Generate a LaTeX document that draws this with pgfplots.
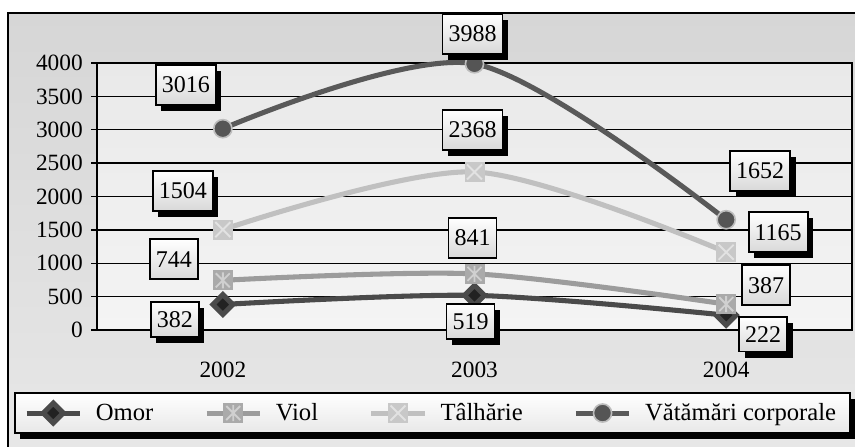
\documentclass[border=0pt]{standalone}
\usepackage{fontspec}
\setmainfont{Liberation Serif}
\usepackage{pgfplots}
\pgfplotsset{compat=1.18}
\usepackage{pgfplotstable}
\usetikzlibrary{shadows}

\definecolor{omorline}{HTML}{4A4A4A}
\definecolor{omormark}{HTML}{222222}
\definecolor{violline}{HTML}{9C9C9C}
\definecolor{violmark}{HTML}{AAAAAA}
\definecolor{violx}{HTML}{D0D0D0}
\definecolor{talline}{HTML}{C0C0C0}
\definecolor{talmark}{HTML}{C8C8C8}
\definecolor{talx}{HTML}{E2E2E2}
\definecolor{vatline}{HTML}{595959}
\definecolor{vatmark}{HTML}{555555}
\definecolor{vatedge}{HTML}{BDBDBD}
\definecolor{frametop}{HTML}{D6D6D6}
\definecolor{framebot}{HTML}{E8E8E8}
\definecolor{plottop}{HTML}{E9E9E9}
\definecolor{plotbot}{HTML}{F4F4F4}

\pgfdeclareplotmark{sqast}{%
  \pgfpathrectangle{\pgfqpoint{-\pgfplotmarksize}{-\pgfplotmarksize}}{\pgfqpoint{2\pgfplotmarksize}{2\pgfplotmarksize}}%
  \pgfsetfillcolor{violmark}\pgfusepathqfill
  \pgfsetstrokecolor{violx}\pgfsetlinewidth{1.4pt}%
  \pgfpathmoveto{\pgfqpoint{0pt}{-0.8\pgfplotmarksize}}\pgfpathlineto{\pgfqpoint{0pt}{0.8\pgfplotmarksize}}%
  \pgfpathmoveto{\pgfqpoint{-0.7\pgfplotmarksize}{-0.7\pgfplotmarksize}}\pgfpathlineto{\pgfqpoint{0.7\pgfplotmarksize}{0.7\pgfplotmarksize}}%
  \pgfpathmoveto{\pgfqpoint{-0.7\pgfplotmarksize}{0.7\pgfplotmarksize}}\pgfpathlineto{\pgfqpoint{0.7\pgfplotmarksize}{-0.7\pgfplotmarksize}}%
  \pgfusepathqstroke}
\pgfdeclareplotmark{sqx}{%
  \pgfpathrectangle{\pgfqpoint{-\pgfplotmarksize}{-\pgfplotmarksize}}{\pgfqpoint{2\pgfplotmarksize}{2\pgfplotmarksize}}%
  \pgfsetfillcolor{talmark}\pgfusepathqfill
  \pgfsetstrokecolor{talx}\pgfsetlinewidth{1.4pt}%
  \pgfpathmoveto{\pgfqpoint{-0.75\pgfplotmarksize}{-0.75\pgfplotmarksize}}\pgfpathlineto{\pgfqpoint{0.75\pgfplotmarksize}{0.75\pgfplotmarksize}}%
  \pgfpathmoveto{\pgfqpoint{-0.75\pgfplotmarksize}{0.75\pgfplotmarksize}}\pgfpathlineto{\pgfqpoint{0.75\pgfplotmarksize}{-0.75\pgfplotmarksize}}%
  \pgfusepathqstroke}

% x = category index (0=2002, 1=2003, 2=2004); dx, dy = label offset in px
\pgfplotstableread{
x y dx dy
0 382 -48 -15
1 519 -4 -26
2 222 37 -19
}\omor
\pgfplotstableread{
x y dx dy
0 744 -49 21
1 841 -2 36
2 387 40 19
}\viol
\pgfplotstableread{
x y dx dy
0 1504 -40 39
1 2368 -2 42
2 1165 52 20
}\tal
\pgfplotstableread{
x y dx dy
0 3016 -37 44
1 3988 -2 30
2 1652 34 49
}\vat

\tikzset{
  lbl/.style={draw=black, line width=1.4pt, top color=white, bottom color=gray!30,
    inner xsep=4.5pt, inner ysep=0pt, minimum height=30pt, anchor=center,
    font=\fontsize{18}{20}\selectfont, text=black},
  lblsh/.style={general shadow={fill=black, shadow xshift=4pt, shadow yshift=-4.5pt}},
}

\begin{document}
\begin{tikzpicture}
\path[use as bounding box] (0pt,0pt) rectangle (641.25pt,334.5pt);
\clip (0pt,0pt) rectangle (641.25pt,334.5pt);
% outer frame
\draw[line width=1.5pt, top color=frametop, bottom color=framebot] (6pt,324.75pt) rectangle (670pt,-20pt);
% legend box
\draw[line width=1.5pt, top color=white, bottom color=gray!18,
  general shadow={fill=black, shadow xshift=3.75pt, shadow yshift=-4.5pt}]
  (11.25pt,39.75pt) rectangle (637.5pt,9.75pt);

\begin{axis}[
  at={(72.75pt,87pt)}, anchor=south west,
  scale only axis, width=566.25pt, height=200.25pt,
  clip=false,
  xmin=-0.5, xmax=2.5, ymin=0, ymax=4000,
  xtick={0,1,2}, xticklabels={2002,2003,2004},
  ytick={0,500,...,4000},
  ytick pos=left, xtick pos=bottom,
  xtick style={draw=none},
  ytick style={black, line width=1.1pt},
  major tick length=4.5pt, tick align=outside,
  ymajorgrids, grid style={black, line width=1.1pt},
  axis line style={black, line width=1.1pt},
  axis background/.style={top color=plottop, bottom color=plotbot},
  /pgf/number format/assume math mode=true,
  /pgf/number format/1000 sep={},
  ticklabel style={font=\fontsize{17.5}{20}\selectfont},
  yticklabel style={inner xsep=0pt, xshift=-6pt},
  xticklabel style={inner ysep=0pt, yshift=-19pt},
  legend columns=4,
  legend cell align=left,
  legend style={at={(0.443,-0.311)}, anchor=center, draw=none, fill=none,
    font=\fontsize{18.5}{20}\selectfont,
    /tikz/every odd column/.append style={column sep=8pt},
    /tikz/every even column/.append style={column sep=36pt}},
  legend image code/.code={\draw[mark repeat=2,mark phase=2,#1] plot coordinates {(0pt,0pt) (20pt,0pt) (40pt,0pt)};},
]
\addplot[omorline, line width=3.8pt, smooth, mark=square*, mark size=5.3pt,
  mark options={rotate=45, fill=omormark, draw=none}] table[x=x,y=y] {\omor};
\addplot[violline, line width=3.8pt, smooth, mark=sqast, mark size=7.5pt] table[x=x,y=y] {\viol};
\addplot[talline, line width=3.8pt, smooth, mark=sqx, mark size=7.5pt] table[x=x,y=y] {\tal};
\addplot[vatline, line width=3.8pt, smooth, mark=*, mark size=6.8pt,
  mark options={fill=vatmark, draw=vatedge, line width=1.2pt}] table[x=x,y=y] {\vat};
\legend{Omor, Viol, Tâlhărie, Vătămări corporale}

% data labels
\addplot[draw=none, mark=none, forget plot, nodes near coords, point meta=explicit symbolic,
  visualization depends on={\thisrow{dx}\as\dx}, visualization depends on={\thisrow{dy}\as\dy},
  nodes near coords style={lbl, lblsh, minimum height=26pt, xshift=\dx*0.75pt, yshift=\dy*0.75pt}]
  table[x=x,y=y,meta=y] {\omor};
\addplot[draw=none, mark=none, forget plot, nodes near coords, point meta=explicit symbolic,
  visualization depends on={\thisrow{dx}\as\dx}, visualization depends on={\thisrow{dy}\as\dy},
  nodes near coords style={lbl, xshift=\dx*0.75pt, yshift=\dy*0.75pt}]
  table[x=x,y=y,meta=y] {\viol};
\addplot[draw=none, mark=none, forget plot, nodes near coords, point meta=explicit symbolic,
  visualization depends on={\thisrow{dx}\as\dx}, visualization depends on={\thisrow{dy}\as\dy},
  nodes near coords style={lbl, lblsh, xshift=\dx*0.75pt, yshift=\dy*0.75pt}]
  table[x=x,y=y,meta=y] {\tal};
\addplot[draw=none, mark=none, forget plot, nodes near coords, point meta=explicit symbolic,
  visualization depends on={\thisrow{dx}\as\dx}, visualization depends on={\thisrow{dy}\as\dy},
  nodes near coords style={lbl, lblsh, xshift=\dx*0.75pt, yshift=\dy*0.75pt}]
  table[x=x,y=y,meta=y] {\vat};
\end{axis}
\end{tikzpicture}
\end{document}
